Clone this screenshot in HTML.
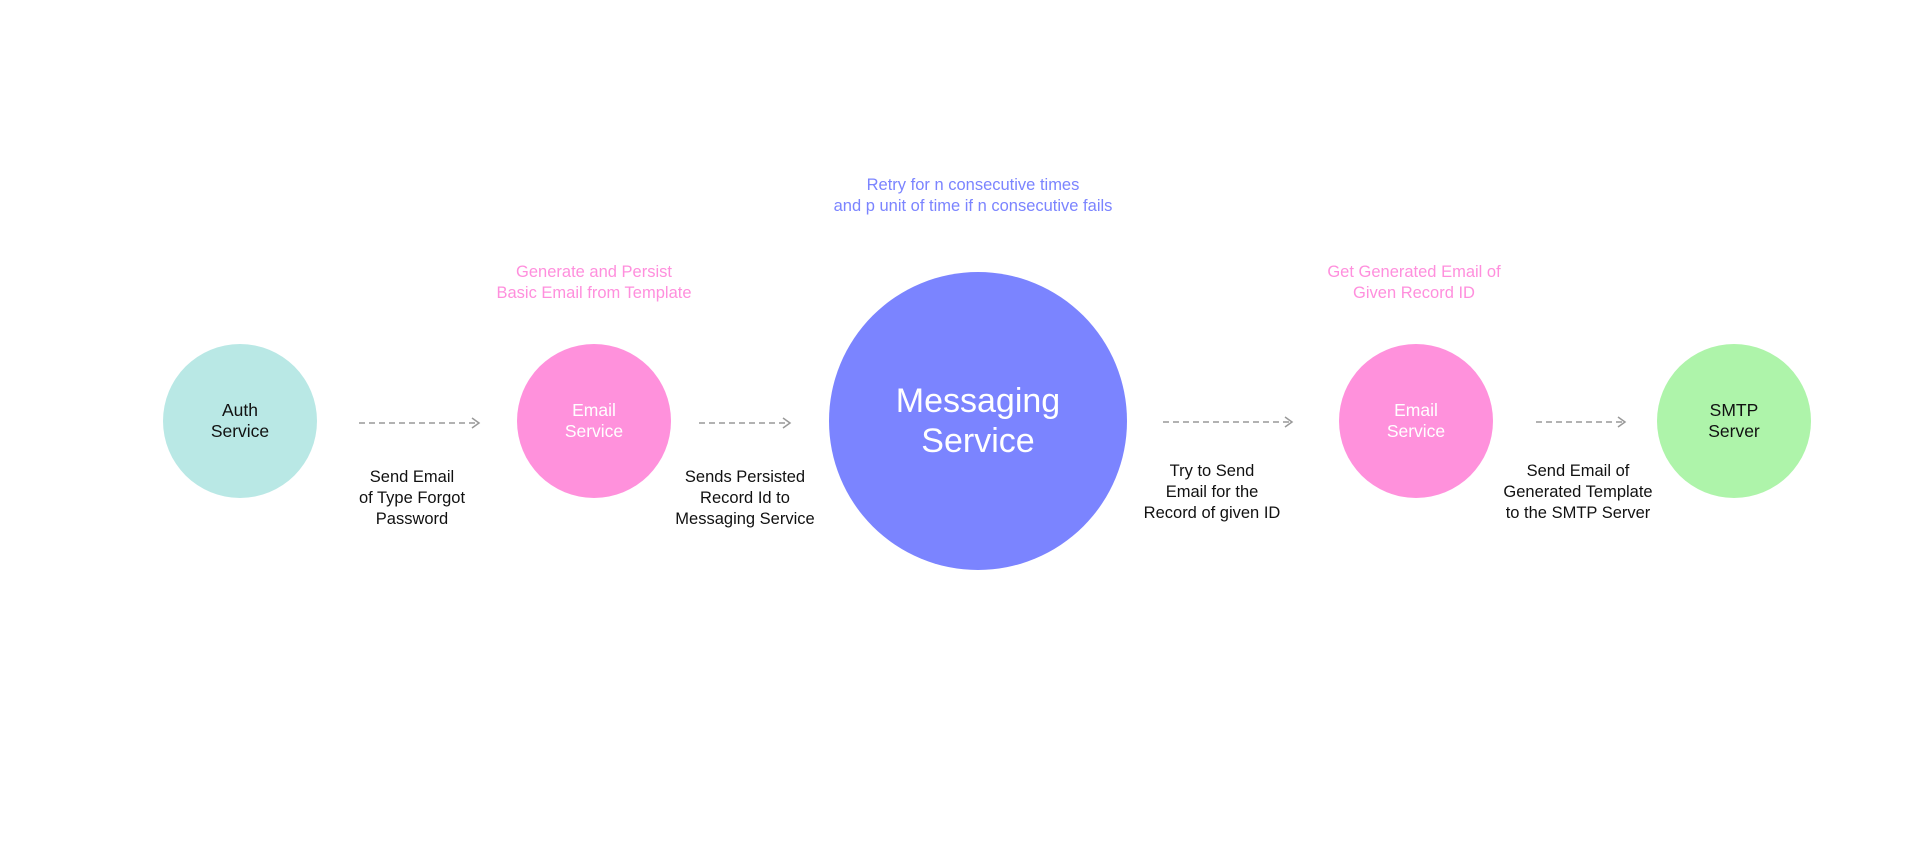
<!DOCTYPE html>
<html><head><meta charset="utf-8"><style>
html,body{margin:0;padding:0;background:#fff;}
body{width:1920px;height:841px;position:relative;overflow:hidden;font-family:"Liberation Sans",sans-serif;}
.c{position:absolute;border-radius:50%;display:flex;align-items:center;justify-content:center;text-align:center;font-size:17.5px;line-height:21px;}
.t{position:absolute;text-align:center;font-size:16.5px;line-height:21px;color:#111;white-space:nowrap;transform:translateX(-50%);}
</style></head><body>
<div class="c" style="left:163px;top:344px;width:154px;height:154px;background:#b9e8e5;color:#111;">Auth<br>Service</div>
<div class="c" style="left:517px;top:344px;width:154px;height:154px;background:#ff91dc;color:#fff;">Email<br>Service</div>
<div class="c" style="left:829px;top:272px;width:298px;height:298px;background:#7b84ff;color:#fff;font-size:34px;line-height:40px;">Messaging<br>Service</div>
<div class="c" style="left:1339px;top:344px;width:154px;height:154px;background:#ff91dc;color:#fff;">Email<br>Service</div>
<div class="c" style="left:1657px;top:344px;width:154px;height:154px;background:#aef4aa;color:#111;">SMTP<br>Server</div>
<svg width="1920" height="841" style="position:absolute;left:0;top:0">
<g stroke="#999" stroke-width="1.5" fill="none">
<line x1="359" y1="423" x2="478" y2="423" stroke-dasharray="6,4"/><polyline points="472,418 479,423 472,428"/>
<line x1="699" y1="423" x2="789" y2="423" stroke-dasharray="6,4"/><polyline points="783,418 790,423 783,428"/>
<line x1="1163" y1="422" x2="1291" y2="422" stroke-dasharray="6,4"/><polyline points="1285,417 1292,422 1285,427"/>
<line x1="1536" y1="422" x2="1624" y2="422" stroke-dasharray="6,4"/><polyline points="1618,417 1625,422 1618,427"/>
</g></svg>
<div class="t" style="left:973px;top:175px;color:#7b84ff;">Retry for n consecutive times<br>and p unit of time if n consecutive fails</div>
<div class="t" style="left:594px;top:262px;color:#ff8fdd;">Generate and Persist<br>Basic Email from Template</div>
<div class="t" style="left:1414px;top:262px;color:#ff8fdd;">Get Generated Email of<br>Given Record ID</div>
<div class="t" style="left:412px;top:467px;">Send Email<br>of Type Forgot<br>Password</div>
<div class="t" style="left:745px;top:467px;">Sends Persisted<br>Record Id to<br>Messaging Service</div>
<div class="t" style="left:1212px;top:461px;">Try to Send<br>Email for the<br>Record of given ID</div>
<div class="t" style="left:1578px;top:461px;">Send Email of<br>Generated Template<br>to the SMTP Server</div>
</body></html>
